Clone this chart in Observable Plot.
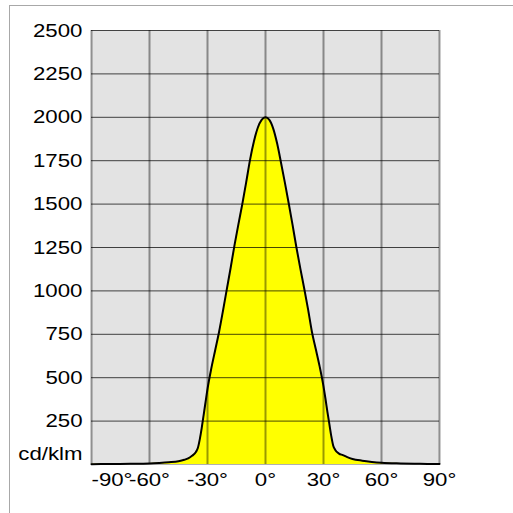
<!DOCTYPE html>
<html>
<head>
<meta charset="utf-8">
<script src="https://cdn.jsdelivr.net/npm/d3@7"></script>
<script src="https://cdn.jsdelivr.net/npm/@observablehq/plot@0.6"></script>
<style>
  html, body { margin: 0; padding: 0; background: #fff; }
  #wrap { position: relative; width: 513px; height: 513px; overflow: hidden; }
  #frame { position: absolute; left: 9px; top: 5px; right: -2px; bottom: -2px; border-left: 1px solid #a8a8a8; border-top: 1px solid #a8a8a8; }
  #chart { position: absolute; left: 0; top: 0; }
</style>
</head>
<body>
<div id="wrap"><div id="frame"></div><div id="chart"></div></div>
<script>
const angles = [-90,-80,-70,-60,-55,-50,-45,-42,-40,-38,-36,-35,-34,-33,-32,-31,-30,-28,-26,-24,-22,-20,-18,-16,-14,-12,-10,-8,-6,-4,-2,0,2,4,6,8,10,12,14,16,18,20,22,24,26,28,30,31,32,33,34,35,36,38,40,42,45,50,55,60,70,80,90];
const intensity = [2,3,4,6,9,13,19,27,35,50,72,95,145,210,285,360,435,555,660,765,885,1010,1135,1265,1385,1500,1625,1755,1860,1940,1985,2000,1985,1935,1850,1740,1625,1505,1380,1250,1130,1015,895,765,665,565,450,380,305,235,165,110,85,63,54,44,32,22,15,10,6,4,3];
const xTicks = [-90,-60,-30,0,30,60,90];
const yTicks = [250,500,750,1000,1250,1500,1750,2000,2250,2500];
const unitLabel = "cd/klm";

const data = angles.map((a, i) => ({angle: a, value: intensity[i]}));
const font = "'Liberation Sans', Arial, sans-serif";

const chart = Plot.plot({
  width: 513,
  height: 513,
  marginLeft: 91,
  marginRight: 74,
  marginTop: 30,
  marginBottom: 49,
  style: {fontFamily: font, fontSize: "19px", color: "#000", background: "transparent"},
  x: {domain: [-90, 90]},
  y: {domain: [0, 2500]},
  marks: [
    Plot.frame({fill: "#e3e3e3"}),
    Plot.areaY(data, {x: "angle", y: "value", fill: "#ffff00", curve: "monotone-x"}),
    Plot.ruleX(xTicks, {stroke: "#000", strokeOpacity: 0.4, strokeWidth: 2}),
    Plot.ruleY(yTicks, {stroke: "#000", strokeOpacity: 0.72, strokeWidth: 1}),
    Plot.ruleY([0], {stroke: "#b0b0b0", strokeWidth: 1}),
    Plot.line(data, {x: "angle", y: "value", stroke: "#000", strokeWidth: 2, curve: "monotone-x"}),
    Plot.axisY(yTicks, {tickSize: 0, tickPadding: 9, label: null, fontSize: 19, tickFormat: d => String(d)}),
    Plot.axisX(xTicks.slice(1), {tickSize: 0, tickPadding: 8, label: null, fontSize: 19, tickFormat: d => d + "°"}),
    Plot.axisX(xTicks.slice(0, 1), {tickSize: 0, tickPadding: 8, label: null, fontSize: 19, textAnchor: "start", tickFormat: d => d + "°"}),
    Plot.text([unitLabel], {x: () => -90, y: () => 0, text: d => d, textAnchor: "end", dx: -9, dy: -11, fontSize: 19})
  ]
});
document.getElementById("chart").appendChild(chart);
// widen glyphs slightly to match the reference's horizontal text proportions
chart.querySelectorAll("text").forEach(t => {
  const w = t.getComputedTextLength();
  if (w > 0) {
    t.setAttribute("textLength", (w * 1.17).toFixed(1));
    t.setAttribute("lengthAdjust", "spacingAndGlyphs");
  }
});
</script>
</body>
</html>
